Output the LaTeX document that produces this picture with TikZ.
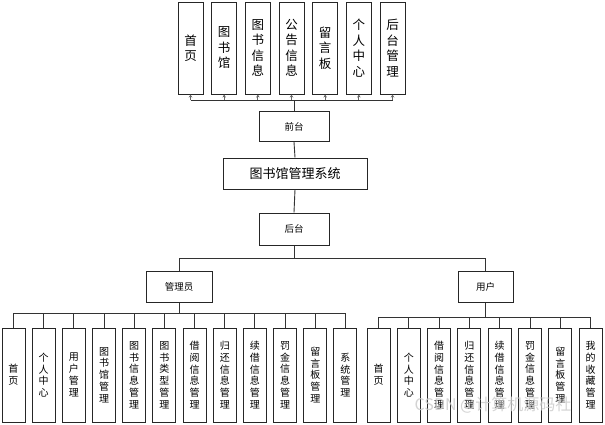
\documentclass[tikz,border=0pt]{standalone}
\usepackage{fontspec}
\setmainfont{Noto Sans CJK SC}
\usetikzlibrary{arrows.meta}
\begin{document}
\begin{tikzpicture}[x=1pt,y=-1pt,
 box/.style={draw=black!85, line width=1pt, fill=white, inner sep=0pt, align=center},
 topbox/.style={box, minimum width=25pt, minimum height=92pt, font=\fontsize{12.5}{15.5}\selectfont},
 midbox/.style={box, minimum width=70pt, minimum height=30pt, font=\fontsize{9.5}{11}\selectfont},
 leafbox/.style={box, minimum width=23pt, minimum height=94pt, font=\fontsize{10}{11.8}\selectfont},
 conn/.style={draw=black!80, line width=0.9pt},
 uparrow/.style={conn, draw=black!60, -{Stealth[length=3pt,width=3.5pt]}},
 ]
\useasboundingbox (0,0) rectangle (605,424);
% top row
\foreach \t [count=\i from 0] in {{首\\页},{图\\书\\馆},{图\\书\\信\\息},{公\\告\\信\\息},{留\\言\\板},{个\\人\\中\\心},{后\\台\\管\\理}}
  \node[topbox] (t\i) at ({190.5+33.67*\i},48) {\t};
% middle chain
\node[midbox] (qt) at (294,126.5) {前台};
\node[midbox, minimum width=144pt, minimum height=31pt, font=\fontsize{13}{13}\selectfont] (sys) at (295,173.5) {图书馆管理系统};
\node[midbox, minimum height=32pt] (ht) at (294,229) {后台};
\node[midbox, minimum width=66pt, minimum height=31pt] (gly) at (179,286.5) {管理员};
\node[midbox, minimum width=55pt, minimum height=31pt] (yh) at (485.5,286.5) {用户};
% leaves admin
\foreach \t [count=\i from 0] in {{首\\页},{个\\人\\中\\心},{用\\户\\管\\理},{图\\书\\馆\\管\\理},{图\\书\\信\\息\\管\\理},{图\\书\\类\\型\\管\\理},{借\\阅\\信\\息\\管\\理},{归\\还\\信\\息\\管\\理},{续\\借\\信\\息\\管\\理},{罚\\金\\信\\息\\管\\理},{留\\言\\板\\管\\理},{系\\统\\管\\理}}
  \node[leafbox] (a\i) at ({13.5+30.18*\i},375) {\t};
% leaves user
\foreach \t [count=\i from 0] in {{首\\页},{个\\人\\中\\心},{借\\阅\\信\\息\\管\\理},{归\\还\\信\\息\\管\\理},{续\\借\\信\\息\\管\\理},{罚\\金\\信\\息\\管\\理},{留\\言\\板\\管\\理},{我\\的\\收\\藏\\管\\理}}
  \node[leafbox] (u\i) at ({378.5+30.3*\i},375) {\t};
% connectors
\coordinate (tbus) at (294,100);
\draw[conn] (qt.north) -- (tbus);
\draw[conn] (t0.south |- tbus) -- (t6.south |- tbus);
\foreach \i in {0,...,6} \draw[uparrow] (t\i.south |- tbus) -- (t\i.south);
\draw[conn] (qt.south) -- (sys.north);
\draw[conn] (sys.south) -- (ht.north);
\coordinate (mbus) at (294,258);
\draw[conn] (ht.south) -- (mbus);
\draw[conn] (gly.north) -- (gly.north |- mbus) -- (yh.north |- mbus) -- (yh.north);
\coordinate (abus) at (179,313);
\draw[conn] (gly.south) -- (abus);
\draw[conn] (a0.north |- abus) -- (a11.north |- abus);
\foreach \i in {0,...,11} \draw[conn] (a\i.north |- abus) -- (a\i.north);
\coordinate (ubus) at (485.5,317);
\draw[conn] (yh.south) -- (ubus);
\draw[conn] (u0.north |- ubus) -- (u7.north |- ubus);
\foreach \i in {0,...,7} \draw[conn] (u\i.north |- ubus) -- (u\i.north);
% watermark
\node[font=\fontsize{16}{16}\selectfont, text=gray!40, opacity=0.85] (wm) at (493,405) {CSDN @计算机源码社};
\end{tikzpicture}
\end{document}
